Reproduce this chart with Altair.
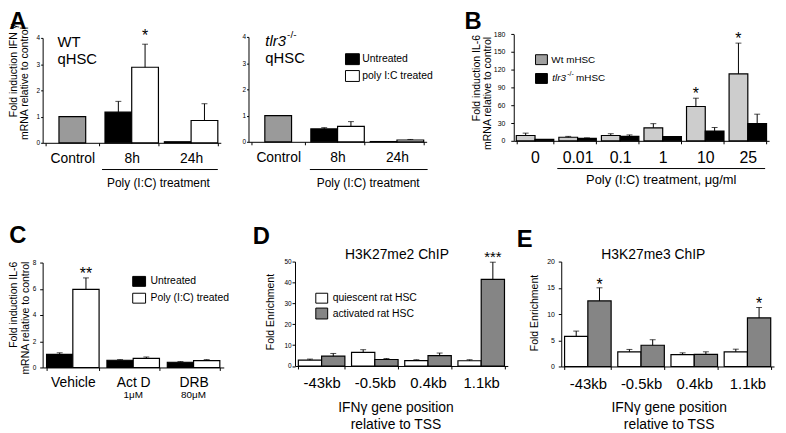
import altair as alt
import pandas as pd

FONT = "Liberation Sans"
W, H = 778, 425
OFF = 8  # page margin: page coordinate -> plot coordinate

# ---------------- data ----------------
a_groups = ["Control", "8h", "24h"]
a_treat_groups = ["8h", "24h"]
a_series = ["Untreated", "poly I:C treated"]
a1_control = [1.0]
a1_untreated = [1.17, 0.04]
a1_untreated_err = [0.41, 0.0]
a1_treated = [2.88, 0.85]
a1_treated_err = [0.88, 0.64]
a1_sig_untreated = ["", ""]
a1_sig_treated = ["*", ""]

a2_control = [1.0]
a2_untreated = [0.49, 0.01]
a2_untreated_err = [0.05, 0.0]
a2_treated = [0.59, 0.07]
a2_treated_err = [0.18, 0.02]
a2_sig = ["", ""]

b_doses = ["0", "0.01", "0.1", "1", "10", "25"]
b_series = ["Wt mHSC", "tlr3-/- mHSC"]
b_wt = [9, 6, 9, 22, 58, 113]
b_wt_err = [4, 1.5, 3, 7, 14, 52]
b_ko = [2.5, 4, 7.5, 7, 16.5, 29]
b_ko_err = [0, 1, 2.5, 0, 6, 16]
b_sig_wt = ["", "", "", "", "*", "*"]
b_sig_ko = ["", "", "", "", "", ""]

c_groups = ["Vehicle", "Act D", "DRB"]
c_sub = ["", "1\u03bcM", "80\u03bcM"]
c_series = ["Untreated", "Poly (I:C) treated"]
c_untreated = [1.0, 0.55, 0.4]
c_untreated_err = [0.12, 0.05, 0.05]
c_treated = [5.95, 0.7, 0.52]
c_treated_err = [0.88, 0.1, 0.08]
c_sig_untreated = ["", "", ""]
c_sig_treated = ["**", "", ""]

chip_positions = ["-43kb", "-0.5kb", "0.4kb", "1.1kb"]
chip_series = ["quiescent rat HSC", "activated rat HSC"]
d_quiescent = [2.8, 6.5, 2.6, 2.5]
d_quiescent_err = [0.5, 1.3, 0.4, 0.5]
d_activated = [4.7, 3.1, 5.0, 41.5]
d_activated_err = [1.3, 0.5, 1.2, 8.2]
d_sig_q = ["", "", "", ""]
d_sig_a = ["", "", "", "***"]

e_quiescent = [5.75, 2.8, 2.25, 2.8]
e_quiescent_err = [1.0, 0.45, 0.35, 0.5]
e_activated = [12.5, 4.05, 2.3, 9.25]
e_activated_err = [2.5, 1.05, 0.5, 2.0]
e_sig_q = ["", "", "", ""]
e_sig_a = ["*", "", "", "*"]

# text
a_ytitle = ["Fold induction IFN \u03b3", "mRNA relative to control"]
il6_ytitle = ["Fold induction IL-6", "mRNA relative to control"]
chip_ytitle = "Fold Enrichment"
a_xtitle = "Poly (I:C) treatment"
b_xtitle = "Poly (I:C) treatment, \u03bcg/ml"
chip_xtitle = ["IFN\u03b3 gene position", "relative to TSS"]
d_title = "H3K27me2 ChIP"
e_title = "H3K27me3 ChIP"

GRAY_A = "#9a9a9a"
GRAY_B = "#cdcdcd"
GRAY_B_KEY = "#a0a0a0"
GRAY_D = "#858585"


def frame(groups, series, means, errs, sigs):
    rows = []
    for s, m, e, sg in zip(series, means, errs, sigs):
        for g, v, er, st in zip(groups, m, e, sg):
            rows.append(dict(group=g, series=s, mean=v, err=er, sig=st))
    return pd.DataFrame(rows)


def panel(df, groups, series, colors, x0, x1, yb, yt, ymax, yvals, pin,
          xfs, xpad, yfs, ytick, ypad, star_dy=0, star_size=16,
          control=None, sub=None):
    xs = alt.Scale(domain=groups, range=[x0 - OFF, x1 - OFF],
                   paddingInner=pin, paddingOuter=pin / 2)
    ys = alt.Scale(domain=[0, ymax], range=[yb - OFF, yt - OFF], nice=False, zero=True)
    osc = alt.Scale(domain=series, paddingInner=0, paddingOuter=0)
    if control is None:
        fs = alt.Scale(domain=series, range=colors)
    else:
        fs = alt.Scale(domain=[control[0]] + series, range=[control[2]] + colors)
    xaxis = alt.Axis(orient="bottom", offset=(yb - OFF) - H, title=None,
                     labelFont=FONT, labelFontSize=xfs, labelColor="black",
                     labelPadding=xpad, labelAngle=0, tickSize=3, tickColor="black",
                     tickBand="extent", domainColor="black", grid=False)
    yaxis = alt.Axis(orient="left", offset=-(x0 - OFF), title=None, values=yvals,
                     labelFont=FONT, labelFontSize=yfs, labelColor="black",
                     labelPadding=ypad, tickSize=ytick, tickColor="black",
                     domainColor="black", grid=False)
    X = alt.X("group:N", scale=xs, axis=xaxis)
    XO = alt.XOffset("series:N", scale=osc)

    def Y(field):
        return alt.Y(field, scale=ys, axis=yaxis)

    base = alt.Chart(df)
    layers = []
    bars = base.mark_bar(stroke="black", strokeWidth=1.2).encode(
        x=X, xOffset=XO, y=Y("mean:Q"),
        fill=alt.Fill("series:N", scale=fs, legend=None))
    layers.append(bars)
    if control is not None:
        cdf = pd.DataFrame({"group": [control[0]], "series": [control[0]], "mean": control[1]})
        layers.append(alt.Chart(cdf).mark_bar(stroke="black", strokeWidth=1.2,
                                              width=alt.RelativeBandSize(0.5)).encode(
            x=X, y=Y("mean:Q"),
            fill=alt.Fill("series:N", scale=fs, legend=None)))
    err = base.transform_filter("datum.err > 0").transform_calculate(upper="datum.mean + datum.err")
    layers.append(err.mark_rule(color="black", strokeWidth=1).encode(
        x=X, xOffset=XO, y=Y("mean:Q"), y2="upper:Q"))
    layers.append(err.mark_tick(color="black", orient="horizontal", size=6, thickness=1).encode(
        x=X, xOffset=XO, y=Y("upper:Q")))
    stars = base.transform_filter("datum.sig != ''").transform_calculate(upper="datum.mean + datum.err")
    layers.append(stars.mark_text(font=FONT, fontSize=star_size, baseline="alphabetic",
                                  dy=star_dy, color="black").encode(
        x=X, xOffset=XO, y=Y("upper:Q"), text="sig:N"))
    if sub is not None:
        sdf = pd.DataFrame({"group": groups, "sub": sub[0]})
        layers.append(alt.Chart(sdf).mark_text(font=FONT, fontSize=10, color="black").encode(
            x=X, y=alt.value(sub[1] - OFF), text="sub:N"))
    return alt.layer(*layers)


def txt(s, x, y, size=12, weight="normal", style="normal", align="left",
        baseline="middle", angle=0):
    return alt.Chart(pd.DataFrame({"t": [s]})).mark_text(
        font=FONT, fontSize=size, fontWeight=weight, fontStyle=style, align=align,
        baseline=baseline, angle=angle, color="black").encode(
        x=alt.value(x - OFF), y=alt.value(y - OFF), text="t:N")


def box(x0, y0, x1, y1, fill):
    return alt.Chart(pd.DataFrame({"k": [0]})).mark_rect(
        fill=fill, stroke="black", strokeWidth=1).encode(
        x=alt.value(x0 - OFF), x2=alt.value(x1 - OFF),
        y=alt.value(y0 - OFF), y2=alt.value(y1 - OFF))


def hline(x0, x1, y):
    return alt.Chart(pd.DataFrame({"k": [0]})).mark_rule(color="black", strokeWidth=1).encode(
        x=alt.value(x0 - OFF), x2=alt.value(x1 - OFF), y=alt.value(y - OFF))


# ---------------- panels ----------------
dfa1 = frame(a_treat_groups, a_series, [a1_untreated, a1_treated],
             [a1_untreated_err, a1_treated_err], [a1_sig_untreated, a1_sig_treated])
pA1 = panel(dfa1, a_groups, a_series, ["black", "white"], 43, 223, 142, 36, 4,
            [0, 1, 2, 3, 4], 0.1, 14, 6, 6.5, 2, 1, star_dy=-3,
            control=(a_groups[0], a1_control, GRAY_A))

dfa2 = frame(a_treat_groups, a_series, [a2_untreated, a2_treated],
             [a2_untreated_err, a2_treated_err], [a2_sig, a2_sig])
pA2 = panel(dfa2, a_groups, a_series, ["black", "white"], 251, 431, 141, 35, 4,
            [0, 1, 2, 3, 4], 0.1, 14, 6, 6.5, 2, 1,
            control=(a_groups[0], a2_control, GRAY_A))

dfb = frame(b_doses, b_series, [b_wt, b_ko], [b_wt_err, b_ko_err], [b_sig_wt, b_sig_ko])
pB = panel(dfb, b_doses, b_series, [GRAY_B, "black"], 519, 777, 140, 32.3, 180,
           [0, 30, 60, 90, 120, 150, 180], 0.12, 16, 6, 7, 3, 6, star_dy=1)

dfc = frame(c_groups, c_series, [c_untreated, c_treated], [c_untreated_err, c_treated_err],
            [c_sig_untreated, c_sig_treated])
pC = panel(dfc, c_groups, c_series, ["black", "white"], 43, 226, 369, 263, 8,
           [0, 2, 4, 6, 8], 0.13, 14, 5, 6.5, 3, 4, star_dy=1, sub=(c_sub, 397))

dfd = frame(chip_positions, chip_series, [d_quiescent, d_activated],
            [d_quiescent_err, d_activated_err], [d_sig_q, d_sig_a])
pD = panel(dfd, chip_positions, chip_series, ["white", GRAY_D], 298, 513, 367.5, 262, 50,
           [0, 10, 20, 30, 40, 50], 0.125, 15, 7, 6.5, 3, 1, star_dy=0, star_size=15)

dfe = frame(chip_positions, chip_series, [e_quiescent, e_activated],
            [e_quiescent_err, e_activated_err], [e_sig_q, e_sig_a])
pE = panel(dfe, chip_positions, chip_series, ["white", GRAY_D], 567, 782, 368, 262, 20,
           [0, 5, 10, 15, 20], 0.125, 15, 7, 7, 3, 4, star_dy=2)

# ---------------- annotations ----------------
ann = [
    txt("A", 18, 27, 24, "bold", align="center", baseline="alphabetic"),
    txt("B", 478, 27, 24, "bold", align="center", baseline="alphabetic"),
    txt("C", 18, 243, 24, "bold", align="center", baseline="alphabetic"),
    txt("D", 264, 244, 24, "bold", align="center", baseline="alphabetic"),
    txt("E", 530, 247, 24, "bold", align="center", baseline="alphabetic"),
    # A1
    txt(a_ytitle[0], 14, 22, 10.6, align="right", angle=270),
    txt(a_ytitle[1], 25, 25, 10.6, align="right", angle=270),
    txt("WT", 58, 40, 15),
    txt("qHSC", 58, 57, 15),
    hline(103, 220, 169),
    txt(a_xtitle, 160, 183, 12, align="center"),
    # A2
    txt("tlr3", 268, 39, 15, style="italic"),
    txt("-/-", 290, 33, 10),
    txt("qHSC", 268, 56, 15),
    box(349, 52, 363, 63, "black"),
    box(349, 69, 363, 80, "white"),
    txt(a_series[0], 366, 57.5, 10.5),
    txt(a_series[1], 366, 74.5, 10.5),
    hline(313, 432, 169),
    txt(a_xtitle, 372, 183, 12, align="center"),
    # B
    txt(il6_ytitle[0], 482, 33, 10.6, align="right", angle=270),
    txt(il6_ytitle[1], 493, 35, 10.6, align="right", angle=270),
    box(541, 53, 553, 63, GRAY_B_KEY),
    box(541, 72, 553, 82, "black"),
    txt(b_series[0], 557, 58, 10),
    txt("tlr3", 558, 77, 10, style="italic"),
    txt("-/-", 573, 73, 7),
    txt("mHSC", 582, 77, 10),
    hline(563, 773, 168),
    txt(b_xtitle, 668, 180, 13, align="center"),
    # C
    txt(il6_ytitle[0], 14.5, 262, 10.6, align="right", angle=270),
    txt(il6_ytitle[1], 26, 262, 10.6, align="right", angle=270),
    box(134, 277, 147, 287, "black"),
    box(134, 294, 147, 304, "white"),
    txt(c_series[0], 152, 282, 10.5),
    txt(c_series[1], 152, 299, 10.5),
    # D
    txt(d_title, 401, 255, 14, align="center"),
    txt(chip_ytitle, 273.5, 313, 10.6, align="center", angle=270),
    box(319, 294, 331, 304, "white"),
    box(319, 309, 331, 320, GRAY_D),
    txt(chip_series[0], 336, 299, 10.5),
    txt(chip_series[1], 336, 314.5, 10.5),
    txt(chip_xtitle[0], 400, 410, 14, align="center"),
    txt(chip_xtitle[1], 400, 427, 14, align="center"),
    # E
    txt(e_title, 660, 255, 14, align="center"),
    txt(chip_ytitle, 541, 314, 10.6, align="center", angle=270),
    txt(chip_xtitle[0], 676, 410, 14, align="center"),
    txt(chip_xtitle[1], 676, 427, 14, align="center"),
]

chart = alt.layer(pA1, pA2, pB, pC, pD, pE, *ann).resolve_scale(
    x="independent", y="independent", xOffset="independent", fill="independent"
).properties(
    width=W, height=H, padding=0,
    autosize=alt.AutoSizeParams(type="none"),
).configure_view(strokeWidth=0)

chart.save("out.html", embed_options={"renderer": "svg", "actions": False})
